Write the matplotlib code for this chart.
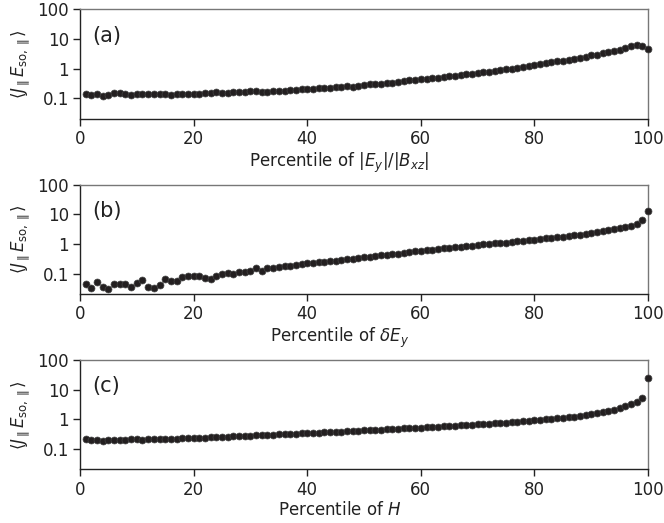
import numpy as np
import matplotlib
matplotlib.use("Agg")
from matplotlib import pyplot as plt
from matplotlib import ticker

percentile = np.arange(1, 101)

# panel (a): percentile of |Ey|/|Bxz|
valores_a = [
    0.14, 0.13, 0.14, 0.12, 0.13, 0.145, 0.145, 0.135, 0.13, 0.135,
    0.135, 0.135, 0.14, 0.135, 0.135, 0.13, 0.135, 0.14, 0.135, 0.14,
    0.14, 0.145, 0.145, 0.16, 0.155, 0.155, 0.16, 0.16, 0.165, 0.175,
    0.17, 0.165, 0.16, 0.18, 0.18, 0.175, 0.19, 0.195, 0.2, 0.205,
    0.21, 0.22, 0.225, 0.225, 0.24, 0.245, 0.25, 0.245, 0.27, 0.28,
    0.295, 0.31, 0.315, 0.32, 0.33, 0.36, 0.38, 0.4, 0.42, 0.44,
    0.45, 0.47, 0.5, 0.52, 0.56, 0.58, 0.61, 0.65, 0.68, 0.72,
    0.76, 0.8, 0.86, 0.9, 0.94, 1.0, 1.05, 1.12, 1.2, 1.3,
    1.45, 1.55, 1.65, 1.75, 1.85, 1.95, 2.1, 2.35, 2.5, 2.8,
    3.0, 3.3, 3.6, 3.9, 4.4, 5.0, 5.6, 6.2, 5.6, 4.5,
]

# panel (b): percentile of delta Ey
valores_b = [
    0.044, 0.032, 0.051, 0.035, 0.030, 0.044, 0.046, 0.044, 0.036, 0.047,
    0.060, 0.035, 0.033, 0.040, 0.066, 0.058, 0.058, 0.077, 0.086, 0.081,
    0.083, 0.073, 0.066, 0.083, 0.095, 0.105, 0.1, 0.11, 0.115, 0.12,
    0.16, 0.126, 0.15, 0.16, 0.17, 0.18, 0.185, 0.19, 0.21, 0.23,
    0.235, 0.24, 0.25, 0.26, 0.275, 0.29, 0.3, 0.31, 0.33, 0.35,
    0.37, 0.39, 0.41, 0.43, 0.45, 0.47, 0.5, 0.53, 0.56, 0.6,
    0.62, 0.65, 0.68, 0.71, 0.74, 0.77, 0.8, 0.84, 0.88, 0.92,
    0.96, 1.0, 1.04, 1.08, 1.12, 1.17, 1.22, 1.28, 1.34, 1.4,
    1.46, 1.53, 1.6, 1.68, 1.77, 1.86, 1.96, 2.07, 2.2, 2.35,
    2.5, 2.7, 2.9, 3.1, 3.4, 3.7, 4.1, 4.9, 6.3, 12.5,
]

# panel (c): percentile of H
valores_c = [
    0.21, 0.2, 0.195, 0.185, 0.2, 0.2, 0.2, 0.205, 0.21, 0.21,
    0.205, 0.21, 0.215, 0.215, 0.215, 0.22, 0.22, 0.225, 0.23, 0.235,
    0.24, 0.24, 0.245, 0.25, 0.255, 0.26, 0.265, 0.27, 0.275, 0.28,
    0.285, 0.29, 0.295, 0.3, 0.305, 0.31, 0.32, 0.325, 0.33, 0.34,
    0.345, 0.35, 0.36, 0.365, 0.375, 0.38, 0.39, 0.4, 0.41, 0.42,
    0.425, 0.435, 0.445, 0.455, 0.465, 0.475, 0.485, 0.5, 0.51, 0.52,
    0.535, 0.55, 0.56, 0.575, 0.59, 0.6, 0.62, 0.635, 0.65, 0.67,
    0.69, 0.71, 0.73, 0.75, 0.77, 0.8, 0.82, 0.85, 0.88, 0.91,
    0.94, 0.98, 1.02, 1.06, 1.1, 1.16, 1.22, 1.3, 1.38, 1.47,
    1.58, 1.72, 1.88, 2.08, 2.35, 2.7, 3.2, 3.9, 5.3, 25.0,
]

paineis = ["(a)", "(b)", "(c)"]
rotulos_x = [r"Percentile of $|E_y|/|B_{xz}|$", r"Percentile of $\delta E_y$", r"Percentile of $H$"]
rotulo_y = r"$\langle J_\parallel E_{\rm so,\parallel}\rangle$"
ticks_y = [0.1, 1, 10, 100]
ticks_y_txt = ["0.1", "1", "10", "100"]

plt.rcParams["font.family"] = "DejaVu Sans"
plt.rcParams["mathtext.fontset"] = "dejavusans"

fig = plt.figure(figsize=(6.64, 5.23), dpi=100)
posicoes = [(0.1205, 0.7725, 0.8555, 0.2095), (0.1205, 0.4373, 0.8555, 0.2095), (0.1205, 0.1023, 0.8555, 0.2095)]

for pos, valores, painel, rx in zip(posicoes, [valores_a, valores_b, valores_c], paineis, rotulos_x):
    ax = fig.add_axes(pos)
    ax.plot(percentile, valores, "o", color="#231f20", markersize=5.0, markeredgewidth=0.5,
            markeredgecolor="#444444", clip_on=False, zorder=3)
    ax.set_yscale("log")
    ax.set_xlim(0, 100)
    ax.set_ylim(0.02, 100)
    ax.yaxis.set_major_locator(ticker.FixedLocator(ticks_y))
    ax.yaxis.set_major_formatter(ticker.FixedFormatter(ticks_y_txt))
    ax.yaxis.set_minor_locator(ticker.NullLocator())
    ax.set_xticks([0, 20, 40, 60, 80, 100])
    ax.tick_params(axis="both", labelsize=12, length=5, width=1, color="#222222", labelcolor="#222222", pad=3)
    for lado in ["left", "bottom"]:
        ax.spines[lado].set_color("#222222")
        ax.spines[lado].set_linewidth(1.0)
    for lado in ["top", "right"]:
        ax.spines[lado].set_color("#777777")
        ax.spines[lado].set_linewidth(1.0)
    ax.set_xlabel(rx, fontsize=12, color="#222222", labelpad=3)
    ax.xaxis.set_label_coords(0.457, -0.29)
    ax.set_ylabel(rotulo_y, fontsize=12, color="#222222", labelpad=4)
    ax.yaxis.set_label_coords(-0.084, 0.5)
    ax.text(0.022, 0.76, painel, transform=ax.transAxes, fontsize=15, color="#222222", va="center")

fig.savefig("out.png", dpi=100)
